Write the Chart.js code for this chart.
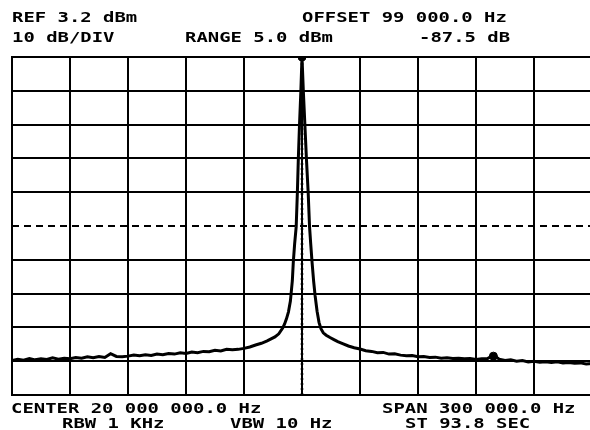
<!DOCTYPE html>
<html>
<head>
<meta charset="utf-8">
<script src="https://cdn.jsdelivr.net/npm/chart.js@4.4.1/dist/chart.umd.min.js"></script>
<style>
  html, body { margin: 0; padding: 0; background: #fff; overflow: hidden; }
  #wrap { position: relative; width: 590px; height: 430px; overflow: hidden; }
  #box { position: absolute; left: 0; top: 0; width: 600px; height: 430px; }
  .t {
    position: absolute; white-space: pre; color: #000;
    font-family: "DejaVu Sans Mono", monospace; font-weight: bold; font-size: 14px;
    line-height: 14px; transform: scaleX(1.35); transform-origin: left top;
  }
</style>
</head>
<body>
<div id="wrap">
  <div id="box"><canvas id="espectro"></canvas></div>
  <div class="t" style="left:12px;top:10px">REF 3.2 dBm</div>
  <div class="t" style="left:12px;top:30px">10 dB/DIV</div>
  <div class="t" style="left:185px;top:30px">RANGE 5.0 dBm</div>
  <div class="t" style="left:302px;top:10px">OFFSET 99 000.0 Hz</div>
  <div class="t" style="left:419px;top:30px">-87.5 dB</div>
  <div class="t" style="left:11px;top:401px">CENTER 20 000 000.0 Hz</div>
  <div class="t" style="left:382px;top:401px">SPAN 300 000.0 Hz</div>
  <div class="t" style="left:62px;top:416px">RBW 1 KHz</div>
  <div class="t" style="left:230px;top:416px">VBW 10 Hz</div>
  <div class="t" style="left:405px;top:416px">ST 93.8 SEC</div>
</div>
<script>
/* offset de frequencia em kHz em relacao ao centro (20 MHz) e nivel em dBm */
var freq_khz = [
  -150, -147, -144, -141, -138, -135, -132, -129, -126, -123,
  -120, -117, -114, -111, -108, -105, -102, -99, -96, -93,
  -90, -87, -84, -81, -78, -75, -72, -69, -66, -63,
  -60, -57, -54, -51, -48, -45, -42, -39, -36, -33,
  -30, -27, -24, -21, -18, -16, -14, -12, -10, -9,
  -8, -7, -6, -5, -4.5, -3.8, -3.0, -2.4, -1.9, -1.3,
  -0.6, 0, 0.7, 1.5, 2.3, 3.2, 3.9, 4.5, 5.2, 6,
  6.8, 7.8, 8.8, 9.8, 11, 12.5, 14.5, 16.5, 18.5, 21,
  24, 27, 30, 33, 36, 39, 42, 45, 48, 51,
  54, 57, 60, 63, 66, 69, 72, 75, 78, 81,
  84, 87, 90, 93, 96, 99, 102, 105, 108, 111,
  114, 117, 120, 123, 126, 129, 132, 135, 138, 141,
  144, 147, 150
];

var nivel_dbm = [
  -86.6, -86.2, -86.5, -86.0, -86.4, -86.1, -86.3, -85.8, -86.2, -85.9,
  -86.1, -85.7, -85.9, -85.5, -85.8, -85.4, -85.7, -84.6, -85.4, -85.5,
  -85.3, -85.0, -85.2, -84.9, -85.1, -84.7, -84.9, -84.5, -84.7, -84.3,
  -84.5, -84.1, -84.3, -83.9, -84.0, -83.6, -83.8, -83.3, -83.4, -83.3,
  -83.0, -82.6, -82.0, -81.5, -80.8, -80.2, -79.6, -78.7, -77.0, -75.8,
  -74.2, -72.2, -69.0, -63.0, -57.5, -52.0, -47.0, -37.0, -27.0, -17.0,
  -7.0, 3.2, -7.0, -17.0, -27.0, -37.0, -47.0, -52.0, -57.5, -63.0,
  -67.5, -72.0, -75.3, -77.2, -78.4, -79.1, -79.8, -80.4, -81.0, -81.6,
  -82.3, -82.8, -83.2, -83.7, -83.9, -84.3, -84.2, -84.7, -84.6, -85.0,
  -85.2, -85.1, -85.5, -85.4, -85.7, -85.6, -85.9, -85.8, -86.0, -85.9,
  -86.1, -86.0, -86.3, -86.1, -86.0, -85.0, -86.2, -86.6, -86.4, -86.8,
  -86.6, -87.0, -86.8, -87.1, -87.0, -87.2, -87.0, -87.3, -87.2, -87.4,
  -87.3, -87.6, -87.5
];

// linhas do reticulado (10 dB/div a partir de REF 3.2 dBm, 30 kHz/div)
var grade_y = [-96.8, -86.8, -76.8, -66.8, -56.8, -46.8, -36.8, -26.8, -16.8, -6.8, 3.2];
var grade_x = [-150, -120, -90, -60, -30, 0, 30, 60, 90, 120, 150];
var linha_range = -46.8;

// marcadores: pico e offset de 99 kHz
var marcador_x = [0, 99];
var marcador_y = [3.2, -85.3];

var pontos_traco = [];
for (let i = 0; i < freq_khz.length; i++) {
    pontos_traco.push({ x: freq_khz[i], y: nivel_dbm[i] });
}
var pontos_marcador = [];
for (let i = 0; i < marcador_x.length; i++) {
    pontos_marcador.push({ x: marcador_x[i], y: marcador_y[i] });
}

const data_espectro = {
    datasets: [
        {
            label: 'marcadores',
            data: pontos_marcador,
            showLine: false,
            pointRadius: 4,
            backgroundColor: '#000',
            borderColor: '#000',
            order: 0
        },
        {
            label: 'traco',
            data: pontos_traco,
            showLine: true,
            borderColor: '#000',
            borderWidth: 3,
            pointRadius: 0,
            tension: 0,
            order: 1
        },
        {
            label: 'range',
            data: [{ x: grade_x[0], y: linha_range }, { x: grade_x[grade_x.length - 1], y: linha_range }],
            showLine: true,
            borderColor: '#000',
            borderWidth: 2,
            borderDash: [7, 5],
            pointRadius: 0,
            order: 2
        },
        {
            label: 'centro',
            data: [{ x: 0, y: grade_y[0] }, { x: 0, y: grade_y[grade_y.length - 1] }],
            showLine: true,
            borderColor: '#000',
            borderWidth: 2.5,
            borderDash: [2, 3],
            pointRadius: 0,
            order: 3
        }
    ]
};

const config_espectro = {
    type: 'scatter',
    data: data_espectro,
    options: {
        responsive: false,
        animation: false,
        layout: { padding: { left: 12, top: 57, right: 8, bottom: 35 } },
        plugins: { legend: { display: false }, tooltip: { enabled: false } },
        scales: {
            x: {
                type: 'linear',
                min: grade_x[0],
                max: grade_x[grade_x.length - 1],
                afterBuildTicks: function (axis) {
                    axis.ticks = grade_x.map(function (v) { return { value: v }; });
                },
                ticks: { display: false },
                grid: { color: '#000', lineWidth: 2, drawTicks: false },
                border: { color: '#000', width: 2 }
            },
            y: {
                type: 'linear',
                min: grade_y[0],
                max: grade_y[grade_y.length - 1],
                afterBuildTicks: function (axis) {
                    axis.ticks = grade_y.map(function (v) { return { value: v }; });
                },
                ticks: { display: false },
                grid: {
                    color: function (ctx) {
                        if (ctx.tick && Math.abs(ctx.tick.value - linha_range) < 0.01) return 'rgba(0,0,0,0)';
                        return '#000';
                    },
                    lineWidth: 2,
                    drawTicks: false
                },
                border: { color: '#000', width: 2 }
            }
        }
    }
};

const canvas = document.getElementById('espectro');
canvas.width = 600;
canvas.height = 430;
const grafico_espectro = new Chart(canvas, config_espectro);
</script>
</body>
</html>
